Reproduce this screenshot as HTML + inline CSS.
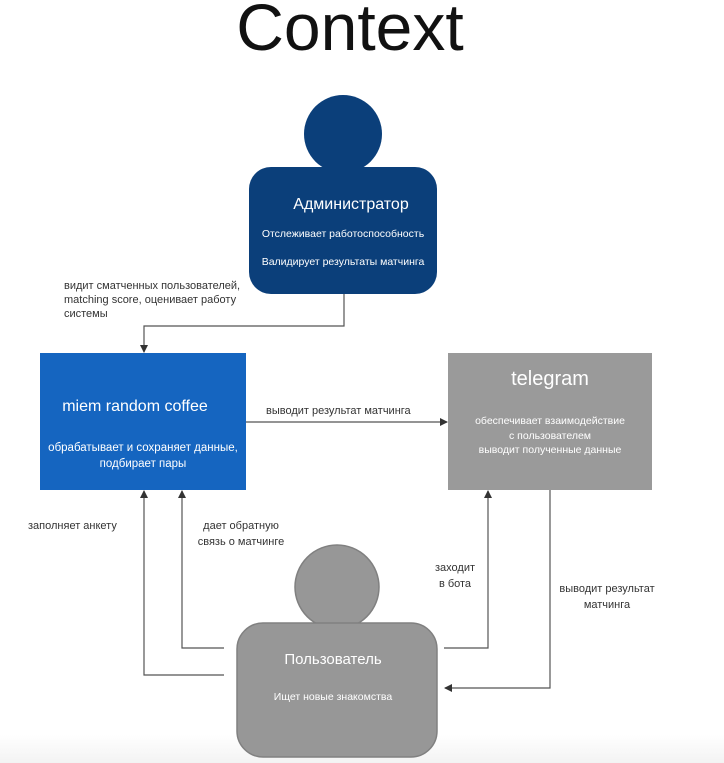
<!DOCTYPE html>
<html><head><meta charset="utf-8"><style>
html,body{margin:0;padding:0;background:#fff;}
svg{display:block;}
text{font-family:"Liberation Sans","DejaVu Sans",sans-serif;}
</style></head><body>
<svg width="724" height="763" viewBox="0 0 724 763" xmlns="http://www.w3.org/2000/svg">
<defs>
<linearGradient id="bg" x1="0" y1="0" x2="0" y2="1"><stop offset="0" stop-color="#fff"/><stop offset="1" stop-color="#f3f3f3"/></linearGradient>
<marker id="ar" markerWidth="8" markerHeight="8" refX="7" refY="4" orient="auto" markerUnits="userSpaceOnUse"><path d="M0,0 L8,4 L0,8 z" fill="#333"/></marker>
</defs>
<rect x="0" y="735" width="724" height="28" fill="url(#bg)"/>
<text x="350" y="50" font-size="66" text-anchor="middle" fill="#111">Context</text>

<!-- Admin -->
<circle cx="343" cy="134" r="39" fill="#0b3f7a"/>
<rect x="249" y="167" width="188" height="127" rx="22" fill="#0b3f7a"/>
<text x="351" y="209" font-size="16" fill="#fff" text-anchor="middle">Администратор</text>
<text x="343" y="237" font-size="10.5" fill="#fff" text-anchor="middle">Отслеживает работоспособность</text>
<text x="343" y="265" font-size="10.5" fill="#fff" text-anchor="middle">Валидирует результаты матчинга</text>

<!-- miem -->
<rect x="40" y="353" width="206" height="137" fill="#1565c0"/>
<text x="135" y="411" font-size="16" fill="#fff" text-anchor="middle">miem random coffee</text>
<text x="143" y="451" font-size="11.5" fill="#fff" text-anchor="middle">обрабатывает и сохраняет данные,</text>
<text x="143" y="467" font-size="11.5" fill="#fff" text-anchor="middle">подбирает пары</text>

<!-- telegram -->
<rect x="448" y="353" width="204" height="137" fill="#9a9a9a"/>
<text x="550" y="385" font-size="20" fill="#fff" text-anchor="middle">telegram</text>
<text x="550" y="424" font-size="10.5" fill="#fff" text-anchor="middle">обеспечивает взаимодействие</text>
<text x="550" y="439" font-size="10.5" fill="#fff" text-anchor="middle">с пользователем</text>
<text x="550" y="453" font-size="10.5" fill="#fff" text-anchor="middle">выводит полученные данные</text>

<!-- User -->
<circle cx="337" cy="587" r="42" fill="#979797" stroke="#808080" stroke-width="1.5"/>
<rect x="237" y="623" width="200" height="134" rx="26" fill="#979797" stroke="#808080" stroke-width="1.5"/>
<text x="333" y="664" font-size="15" fill="#fff" text-anchor="middle">Пользователь</text>
<text x="333" y="700" font-size="10.5" fill="#fff" text-anchor="middle">Ищет новые знакомства</text>

<!-- connectors -->
<g fill="none" stroke="#555" stroke-width="1.2">
<path d="M344,294 V326 H144 V352" marker-end="url(#ar)"/>
<path d="M246,422 H447" marker-end="url(#ar)"/>
<path d="M224,675 H144 V491" marker-end="url(#ar)"/>
<path d="M224,648 H182 V491" marker-end="url(#ar)"/>
<path d="M444,648 H488 V491" marker-end="url(#ar)"/>
<path d="M550,490 V688 H445" marker-end="url(#ar)"/>
</g>

<g font-size="11" fill="#333">
<text x="64" y="289">видит сматченных пользователей,</text>
<text x="64" y="303">matching score, оценивает работу</text>
<text x="64" y="317">системы</text>
<text x="266" y="414">выводит результат матчинга</text>
<text x="28" y="529">заполняет анкету</text>
<text x="241" y="529" text-anchor="middle">дает обратную</text>
<text x="241" y="545" text-anchor="middle">связь о матчинге</text>
<text x="455" y="571" text-anchor="middle">заходит</text>
<text x="455" y="587" text-anchor="middle">в бота</text>
<text x="607" y="592" text-anchor="middle">выводит результат</text>
<text x="607" y="608" text-anchor="middle">матчинга</text>
</g>
</svg>
</body></html>
